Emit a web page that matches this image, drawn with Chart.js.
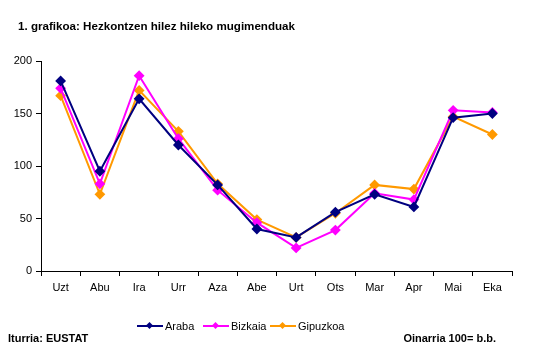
<!DOCTYPE html>
<html>
<head>
<meta charset="utf-8">
<script src="https://cdn.jsdelivr.net/npm/chart.js@4"></script>
<style>
  body { margin: 0; background: #fff; font-family: "Liberation Sans", Arial, sans-serif; }
  #wrap { position: relative; width: 537px; height: 359px; }
  .txt { position: absolute; font-size: 11px; color: #000; white-space: nowrap; line-height: 13px; }
  .bold { font-weight: bold; }
  .leg { position: absolute; top: 319px; height: 14px; font-size: 11px; line-height: 14px; }
  .leg .ln { position: absolute; left: 0; top: 6px; width: 26px; height: 2px; }
  .leg .mk { position: absolute; left: 10px; top: 4px; width: 5px; height: 5px; transform: rotate(45deg); }
  .leg .lb { position: absolute; left: 28px; top: 0; }
</style>
</head>
<body>
<div id="wrap">
  <canvas id="chart" width="537" height="359"></canvas>
  <div class="txt bold" style="left:18px; top:19px; font-size:11.6px;">1. grafikoa: Hezkontzen hilez hileko mugimenduak</div>
  <div id="legend"></div>
  <div class="txt bold" style="left:8px; top:332px;">Iturria: EUSTAT</div>
  <div class="txt bold" style="right:41px; top:332px;">Oinarria 100= b.b.</div>
</div>
<script>
const months = ["Uzt", "Abu", "Ira", "Urr", "Aza", "Abe", "Urt", "Ots", "Mar", "Apr", "Mai", "Eka"];
const araba = [181, 95, 164, 120, 82, 40, 32, 56, 73, 61, 146, 150];
const bizkaia = [174, 83, 186, 126, 77, 46, 22, 39, 74, 68, 153, 151];
const gipuzkoa = [167, 73, 172, 133, 83, 49, 32, 55, 82, 78, 147, 130];
const yTicks = [0, 50, 100, 150, 200];

const series = [
    { name: "Araba", data: araba, color: "#000080" },
    { name: "Bizkaia", data: bizkaia, color: "#FF00FF" },
    { name: "Gipuzkoa", data: gipuzkoa, color: "#FF9900" }
];

// HTML legend
const legendLeft = [137, 203, 270];
const legend = document.getElementById("legend");
series.forEach((s, i) => {
    const item = document.createElement("div");
    item.className = "leg";
    item.style.left = legendLeft[i] + "px";
    item.innerHTML = `<span class="ln" style="background:${s.color}"></span>` +
        `<span class="mk" style="background:${s.color}"></span>` +
        `<span class="lb">${s.name}</span>`;
    legend.appendChild(item);
});

Chart.defaults.font.family = "'Liberation Sans', Arial, sans-serif";
Chart.defaults.font.size = 11;
Chart.defaults.color = "#000";

new Chart(document.getElementById("chart"), {
    type: "line",
    data: {
        labels: months,
        datasets: series.map(s => ({
            label: s.name,
            data: s.data,
            borderColor: s.color,
            backgroundColor: s.color,
            borderWidth: 2,
            pointStyle: "rectRot",
            pointRadius: 4,
            pointHoverRadius: 4,
            tension: 0
        }))
    },
    options: {
        responsive: false,
        animation: false,
        layout: { padding: { left: 0, top: 61, right: 25, bottom: 0 } },
        plugins: { legend: { display: false }, tooltip: { enabled: false } },
        scales: {
            x: {
                offset: true,
                grid: { offset: true, drawOnChartArea: false, color: "#000", tickLength: 5 },
                border: { color: "#000", width: 1 },
                ticks: { padding: 5, maxRotation: 0 },
                afterFit: axis => { axis.height = 88; }
            },
            y: {
                min: 0,
                max: 200,
                afterBuildTicks: axis => { axis.ticks = yTicks.map(v => ({ value: v })); },
                grid: { drawOnChartArea: false, color: "#000", tickLength: 5 },
                border: { color: "#000", width: 1 },
                ticks: { padding: 4 },
                afterFit: axis => { axis.width = 41; }
            }
        }
    }
});
</script>
</body>
</html>
